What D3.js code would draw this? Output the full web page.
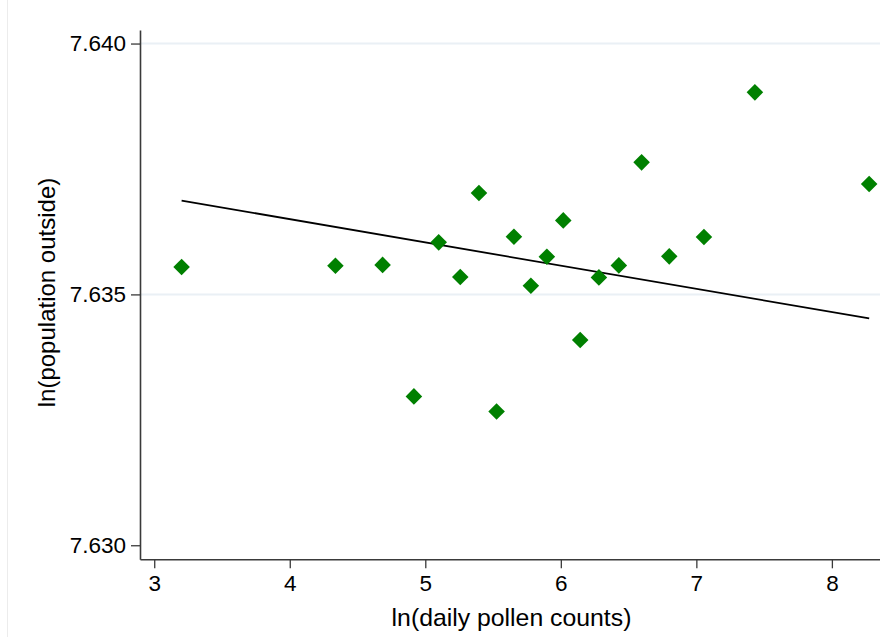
<!DOCTYPE html>
<html>
<head>
<meta charset="utf-8">
<script src="https://cdn.jsdelivr.net/npm/d3@7"></script>
<style>
  html, body { margin: 0; padding: 0; background: #fff; }
  svg { display: block; font-family: "Liberation Sans", Arial, Helvetica, sans-serif; }
</style>
</head>
<body>
<svg id="chart" width="880" height="637"></svg>
<script>
// ---- data ----
const pollenX = [3.202, 4.337, 4.685, 4.916, 5.099, 5.258, 5.396, 5.526, 5.654, 5.779,
                 5.897, 6.018, 6.143, 6.281, 6.428, 6.596, 6.800, 7.056, 7.432, 8.275];
const popY    = [7.635546, 7.635572, 7.635588, 7.632967, 7.636037, 7.635347, 7.637022, 7.632667, 7.636150, 7.635173,
                 7.635752, 7.636475, 7.634091, 7.635339, 7.635578, 7.637632, 7.635758, 7.636144, 7.639027, 7.637201];
const fitX = [3.202, 8.275];
const fitY = [7.63687, 7.63452];
const xTicks = [3, 4, 5, 6, 7, 8];
const yTicks = [7.630, 7.635, 7.640];
const yGrid  = [7.635, 7.640];
const xTitle = "ln(daily pollen counts)";
const yTitle = "ln(population outside)";

// ---- chart ----
const svg = d3.select("#chart");
const pLeft = 140, pRight = 880, pTop = 30, pBottom = 559.3;

const x = d3.scaleLinear().domain([2.895, 8.355]).range([pLeft, pRight]);
const y = d3.scaleLinear().domain([7.62972, 7.64027]).range([pBottom, pTop]);

svg.append("rect").attr("width", 880).attr("height", 637).attr("fill", "#fff");

// faint outer border at far left
svg.append("line")
  .attr("x1", 7.5).attr("x2", 7.5).attr("y1", 0).attr("y2", 637)
  .attr("stroke", "#ececec").attr("stroke-width", 1);

// gridlines
svg.append("g").selectAll("line").data(yGrid).join("line")
  .attr("x1", pLeft).attr("x2", pRight)
  .attr("y1", d => y(d)).attr("y2", d => y(d))
  .attr("stroke", "#eaf0f5").attr("stroke-width", 2);

// fit line
svg.append("path")
  .datum(fitX.map((v, i) => [v, fitY[i]]))
  .attr("d", d3.line().x(d => x(d[0])).y(d => y(d[1])))
  .attr("fill", "none").attr("stroke", "#000").attr("stroke-width", 1.8);

// points (diamonds)
const sym = d3.symbol().type(d3.symbolSquare).size(137);
svg.append("g").selectAll("path").data(pollenX.map((v, i) => [v, popY[i]])).join("path")
  .attr("d", sym)
  .attr("transform", d => `translate(${x(d[0])},${y(d[1])}) rotate(45)`)
  .attr("fill", "#008000");

// axes
const axisColor = "#3a3a3a";
const yAxis = svg.append("g").attr("transform", `translate(${pLeft},0)`)
  .call(d3.axisLeft(y).tickValues(yTicks).tickFormat(d3.format(".3f")).tickSize(9).tickSizeOuter(0).tickPadding(5));
const xAxis = svg.append("g").attr("transform", `translate(0,${pBottom})`)
  .call(d3.axisBottom(x).tickValues(xTicks).tickFormat(d3.format("d")).tickSize(9).tickSizeOuter(0).tickPadding(6.5));

[yAxis, xAxis].forEach(g => {
  g.select(".domain").attr("stroke", axisColor).attr("stroke-width", 1.6);
  g.selectAll(".tick line").attr("stroke", axisColor).attr("stroke-width", 1.3);
  g.selectAll(".tick text").attr("fill", "#000").style("font-size", "22.5px")
    .style("font-family", '"Liberation Sans", Arial, sans-serif');
});

// titles
svg.append("text")
  .attr("x", 511.5).attr("y", 625.5)
  .attr("text-anchor", "middle")
  .style("font-size", "24.8px").attr("fill", "#000")
  .text(xTitle);

svg.append("text")
  .attr("transform", `translate(55,292.5) rotate(-90)`)
  .attr("text-anchor", "middle")
  .style("font-size", "24px").attr("fill", "#000")
  .text(yTitle);
</script>
</body>
</html>
